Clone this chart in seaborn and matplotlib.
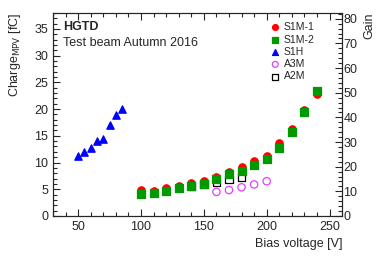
import matplotlib
matplotlib.use("Agg")
import matplotlib.pyplot as plt
import pandas as pd
import seaborn as sns
from matplotlib.ticker import MultipleLocator

# data
v_s1m = [100, 110, 120, 130, 140, 150, 160, 170, 180, 190, 200, 210, 220, 230, 240]
q_s1m1 = [4.9, 4.7, 5.2, 5.6, 6.1, 6.6, 7.3, 8.2, 9.1, 10.3, 11.2, 13.7, 16.3, 19.9, 22.8]
q_s1m2 = [4.2, 4.35, 4.6, 5.2, 5.65, 6.0, 6.85, 7.8, 8.5, 9.6, 10.6, 12.8, 15.7, 19.5, 23.3]
v_s1h = [50, 55, 60, 65, 70, 75, 80, 85]
q_s1h = [11.3, 11.9, 12.75, 14.1, 14.4, 17.0, 18.9, 20.0]
v_a3m = [160, 170, 180, 190, 200]
q_a3m = [4.5, 4.85, 5.35, 5.9, 6.5]
v_a2m = [140, 150, 160, 170, 180]
q_a2m = [5.6, 6.0, 6.3, 6.8, 7.3]

gain_per_fc = 80 / 36.9

sns.set_style("ticks")
plt.rcParams["font.family"] = ["Liberation Sans", "DejaVu Sans"]

fig = plt.figure(figsize=(3.81, 2.58), dpi=100)
ax = fig.add_axes([0.139, 0.163, 0.759, 0.787])

series = [
    ("S1M-1", v_s1m, q_s1m1, "o", "red", "red"),
    ("S1M-2", v_s1m, q_s1m2, "s", "#009900", "#009900"),
    ("S1H", v_s1h, q_s1h, "^", "blue", "blue"),
    ("A3M", v_a3m, q_a3m, "o", "none", "#e040ff"),
    ("A2M", v_a2m, q_a2m, "s", "none", "black"),
]
# draw open markers first so filled ones sit on top where they overlap
for name, xs, ys, mk, fc, ec in [series[3], series[4], series[0], series[1], series[2]]:
    df = pd.DataFrame({"V": xs, "Q": ys})
    sns.scatterplot(data=df, x="V", y="Q", marker=mk, s=28, facecolors=fc,
                    edgecolors=ec, linewidth=0.9, label=name, ax=ax, zorder=3)

ax.set_xlim(30, 260)
ax.set_ylim(0, 38)
ax.xaxis.set_major_locator(MultipleLocator(50))
ax.xaxis.set_minor_locator(MultipleLocator(10))
ax.yaxis.set_major_locator(MultipleLocator(5))
ax.yaxis.set_minor_locator(MultipleLocator(1))
ax.tick_params(which="both", direction="in", top=True, right=False, labelsize=9)
ax.tick_params(which="major", length=5, width=0.8)
ax.tick_params(which="minor", length=2.8, width=0.8)
ax.set_xlabel("Bias voltage [V]", fontsize=9, loc="right")
ax.set_ylabel("Charge$_{\\mathrm{MPV}}$ [fC]", fontsize=9, loc="top", labelpad=8)

ax2 = ax.twinx()
ax2.set_ylim(0, 38 * gain_per_fc)
ax2.yaxis.set_major_locator(MultipleLocator(10))
ax2.yaxis.set_minor_locator(MultipleLocator(2))
ax2.tick_params(which="both", direction="in", labelsize=9, pad=1)
ax2.tick_params(which="major", length=5, width=0.8)
ax2.tick_params(which="minor", length=2.8, width=0.8)
ax2.set_ylabel("Gain", fontsize=9, loc="top")

ax.text(0.035, 0.93, "HGTD", transform=ax.transAxes, fontsize=9,
        fontweight="bold", va="center")
ax.text(0.035, 0.852, "Test beam Autumn 2016", transform=ax.transAxes,
        fontsize=9, va="center")

handles, labels = ax.get_legend_handles_labels()
order = ["S1M-1", "S1M-2", "S1H", "A3M", "A2M"]
hmap = dict(zip(labels, handles))
ax.legend([hmap[k] for k in order], order, loc="upper left",
          bbox_to_anchor=(0.722, 0.99), frameon=False, fontsize=7.5,
          handletextpad=0.2, labelspacing=0.22, borderpad=0.2,
          handlelength=1.2, markerscale=0.8)

for sp in ax.spines.values():
    sp.set_linewidth(0.8)

fig.savefig("out.png", dpi=100)
